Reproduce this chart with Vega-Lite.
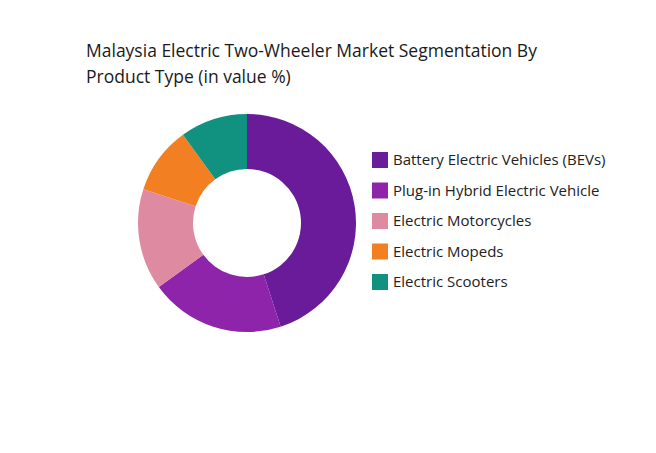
{
  "$schema": "https://vega.github.io/schema/vega-lite/v6.json",
  "width": 218,
  "height": 218,
  "autosize": {"type": "none"},
  "padding": {"left": 138, "top": 114, "right": 300, "bottom": 121},
  "background": "white",
  "title": {
    "text": ["Malaysia Electric Two-Wheeler Market Segmentation By", "Product Type (in value %)"],
    "anchor": "start",
    "frame": "group",
    "dx": -52,
    "offset": 28,
    "font": "Open Sans",
    "fontSize": 17.5,
    "fontWeight": 500,
    "lineHeight": 26,
    "color": "#1a1a1a"
  },
  "data": {
    "values": [
      {"type": "Battery Electric Vehicles (BEVs)", "value": 45, "order": 1},
      {"type": "Plug-in Hybrid Electric Vehicle", "value": 20, "order": 2},
      {"type": "Electric Motorcycles", "value": 15, "order": 3},
      {"type": "Electric Mopeds", "value": 10, "order": 4},
      {"type": "Electric Scooters", "value": 10, "order": 5}
    ]
  },
  "mark": {"type": "arc", "outerRadius": 109, "innerRadius": 54},
  "encoding": {
    "theta": {"field": "value", "type": "quantitative", "stack": true},
    "order": {"field": "order", "type": "quantitative", "sort": "ascending"},
    "color": {
      "field": "type",
      "type": "nominal",
      "sort": null,
      "scale": {
        "domain": ["Battery Electric Vehicles (BEVs)", "Plug-in Hybrid Electric Vehicle", "Electric Motorcycles", "Electric Mopeds", "Electric Scooters"],
        "range": ["#6a1b9a", "#8e24aa", "#de8ba2", "#f27f22", "#11917f"]
      },
      "legend": {
        "title": null,
        "orient": "none",
        "legendX": 234,
        "legendY": 38,
        "symbolType": "square",
        "symbolSize": 256,
        "symbolStrokeWidth": 0,
        "labelFont": "Open Sans",
        "labelFontSize": 15,
        "labelColor": "#222222",
        "labelOffset": 5,
        "rowPadding": 14.5,
        "labelLimit": 300
      }
    }
  }
}
